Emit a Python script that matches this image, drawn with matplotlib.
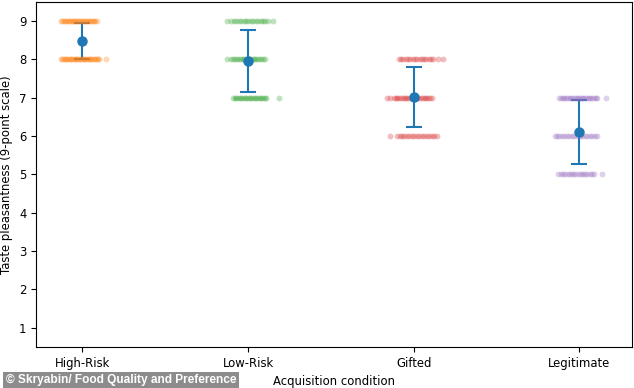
import numpy as np
import matplotlib
matplotlib.use("Agg")
import matplotlib.pyplot as plt

categories = ["High-Risk", "Low-Risk", "Gifted", "Legitimate"]
colors = ["tab:orange", "tab:green", "tab:red", "tab:purple"]
means = [8.47, 7.95, 7.02, 6.10]
sds = [0.47, 0.81, 0.78, 0.83]

# rating levels and number of responses at each level, per condition
levels = [[9, 8], [9, 8, 7], [8, 7, 6], [7, 6, 5]]
counts = [[28, 32], [18, 20, 22], [18, 24, 18], [24, 18, 18]]
# horizontal jitter extents (x units) for the dense core of each row of points
jitter_lo = [[-0.13, -0.13], [-0.10, -0.10, -0.09], [-0.09, -0.12, -0.10], [-0.12, -0.12, -0.11]]
jitter_hi = [[0.085, 0.10], [0.12, 0.10, 0.11], [0.12, 0.11, 0.14], [0.11, 0.11, 0.09]]
# isolated stray points (x offsets) for each row
strays = [[[], [0.14]], [[-0.13, 0.15], [-0.13], [0.19]], [[0.15, 0.175], [-0.16, -0.145], [-0.14]],
          [[0.16], [-0.145, -0.135], [-0.13, 0.14]]]

fig = plt.figure(figsize=(6.34, 3.88), dpi=100)
ax = fig.add_axes([0.057, 0.106, 0.940, 0.889])

x = np.arange(len(categories))
ax.errorbar(x, means, yerr=sds, fmt="none", ecolor="tab:blue", capsize=6,
            elinewidth=1.5, capthick=1.5, zorder=2)
ax.plot(x, means, "o", color="tab:blue", markersize=6.5, zorder=4)

for i, cat in enumerate(categories):
    for j, lv in enumerate(levels[i]):
        n = counts[i][j] - len(strays[i][j])
        xs = i + np.concatenate([np.linspace(jitter_lo[i][j], jitter_hi[i][j], n),
                                 np.array(strays[i][j], dtype=float)])
        ax.scatter(xs, np.full(len(xs), lv), s=18, color=colors[i], alpha=0.3,
                   linewidths=0, zorder=3)

ax.set_xlim(-0.28, 3.32)
ax.set_ylim(0.5, 9.5)
ax.set_xticks(x)
ax.set_xticklabels(categories)
ax.set_yticks(range(1, 10))
ax.tick_params(labelsize=8.4)
ax.set_ylabel("Taste pleasantness (9-point scale)", fontsize=8.4)
ax.set_xlabel("Acquisition condition", fontsize=8.4, labelpad=4)

fig.text(0.009, 0.005, "\u00a9 Skryabin/ Food Quality and Preference", color="white",
         fontsize=8.6, fontweight="bold", family="Liberation Sans", va="bottom", ha="left",
         bbox=dict(boxstyle="square,pad=0.2", facecolor="#8c8c8c", edgecolor="none"))

fig.savefig("out.png", dpi=100)
